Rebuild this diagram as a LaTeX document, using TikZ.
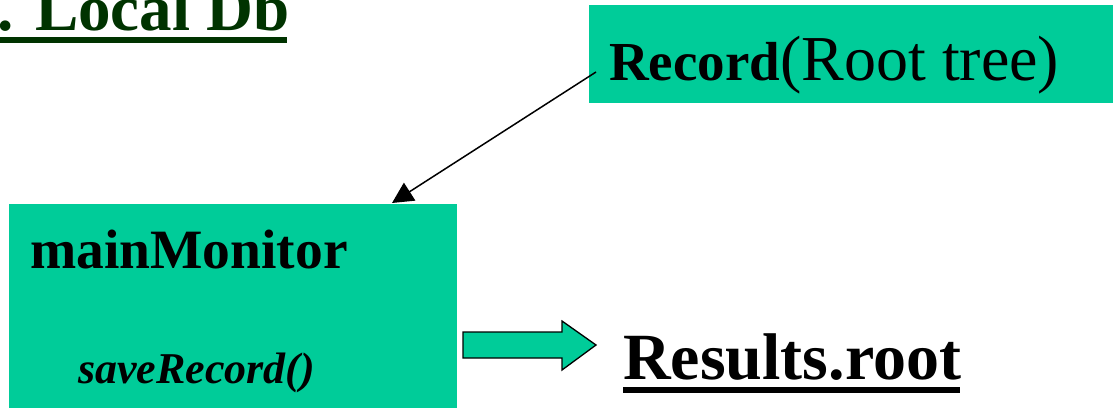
\documentclass[tikz,border=0pt]{standalone}
\usepackage{fontspec}
\setmainfont{Liberation Serif}
\usetikzlibrary{arrows.meta,calc}
\definecolor{boxgreen}{HTML}{00CC99}
\definecolor{titlegreen}{HTML}{003300}
\tikzset{
  greenbox/.style={fill=boxgreen, draw=none, inner sep=0pt},
  txt/.style={inner sep=0pt, anchor=base west, text=black},
  uline/.style={fill, draw=none},
  ptr/.style={line width=1.5pt, -{Triangle[length=21pt,width=21pt]}},
  blockarrow/.style={fill=boxgreen, draw=black, line width=1.3pt, line join=miter}
}
\begin{document}
\begin{tikzpicture}[x=1pt,y=-1pt]
\useasboundingbox (0,0) rectangle (1113,407);
% title
\node[txt, text=titlegreen, font=\fontsize{65}{70}\selectfont\bfseries] (title) at (-3,30) {. Local Db};
\fill[titlegreen] (0,37) rectangle (287,43);
% record box
\path[greenbox] (589,5) rectangle (1113,103);
\node[inner sep=0pt, minimum width=524pt, minimum height=98pt, anchor=north west] (rec) at (589,5) {};
\node[txt] (rectext) at (609,80) {\fontsize{55}{60}\selectfont\bfseries Record\fontsize{64}{70}\selectfont\mdseries(Root tree)};
% mainMonitor box
\path[greenbox] (9,204) rectangle (457,410);
\node[inner sep=0pt, minimum width=448pt, minimum height=206pt, anchor=north west] (mm) at (9,204) {};
\node[txt, font=\fontsize{55.5}{60}\selectfont\bfseries] (mmtext) at (30,268) {mainMonitor};
\node[txt, font=\fontsize{44}{48}\selectfont\bfseries\itshape] (save) at (78,383) {saveRecord()};
% pointer arrow
\coordinate (p1) at ($(rec.north west)+(7,67)$);
\coordinate (p2) at ($(mm.north west)+(383,-1)$);
\draw[ptr] (p1) -- (p2);
% block arrow
\draw[blockarrow] (463,332) -- (562,332) -- (562,321) -- (596,345) -- (562,370) -- (562,358) -- (463,358) -- cycle;
% results
\node[txt, font=\fontsize{66}{70}\selectfont\bfseries] (res) at (623,379) {Results.root};
\fill[black] (623,387) rectangle (960,393);
\end{tikzpicture}
\end{document}
